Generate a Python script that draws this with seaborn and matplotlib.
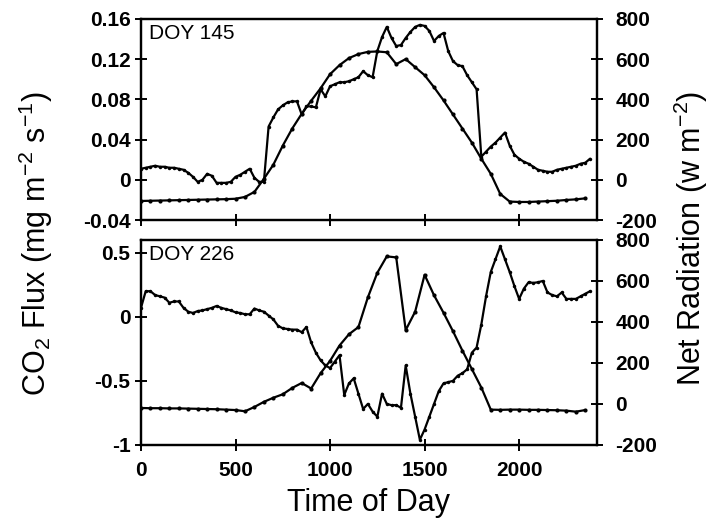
import numpy as np
import matplotlib
matplotlib.use("Agg")
import matplotlib.pyplot as plt
import seaborn as sns

# time grids (decimal hours x 100)
TIME_FLUX = np.arange(0, 2400, 25)
TIME_RN = np.arange(0, 2400, 50)

# DOY 145
flux_145 = [0.011, 0.012, 0.013, 0.014, 0.013, 0.013, 0.012, 0.012, 0.011, 0.010,
            0.007, 0.003, -0.002, 0.000, 0.006, 0.004, -0.003, -0.003, -0.003, -0.002,
            0.003, 0.005, 0.008, 0.011, 0.002, -0.002, -0.002, 0.053, 0.062, 0.070,
            0.074, 0.077, 0.078, 0.078, 0.065, 0.073, 0.073, 0.072, 0.090, 0.083,
            0.093, 0.095, 0.097, 0.097, 0.098, 0.100, 0.102, 0.108, 0.104, 0.102,
            0.128, 0.142, 0.152, 0.141, 0.133, 0.134, 0.141, 0.147, 0.152, 0.154,
            0.153, 0.148, 0.138, 0.143, 0.146, 0.128, 0.118, 0.114, 0.113, 0.104,
            0.097, 0.090, 0.023, 0.028, 0.033, 0.037, 0.042, 0.047, 0.034, 0.025,
            0.021, 0.018, 0.016, 0.013, 0.010, 0.009, 0.008, 0.008, 0.010, 0.011,
            0.012, 0.013, 0.014, 0.016, 0.017, 0.021]
rn_145 = [-105, -104, -103, -102, -101, -100, -99, -98, -97, -96,
          -94, -85, -60, 5, 75, 170, 255, 328, 393, 455,
          525, 570, 605, 625, 636, 638, 634, 575, 600, 560,
          520, 460, 395, 325, 255, 185, 105, 30, -70, -108,
          -110, -110, -108, -106, -104, -100, -97, -92]

# DOY 226
flux_226 = [0.07, 0.20, 0.20, 0.17, 0.16, 0.15, 0.11, 0.12, 0.12, 0.07,
            0.04, 0.03, 0.045, 0.05, 0.06, 0.07, 0.085, 0.07, 0.06, 0.05,
            0.035, 0.03, 0.02, 0.02, 0.065, 0.05, 0.04, 0.01, -0.02, -0.07,
            -0.09, -0.095, -0.10, -0.10, -0.12, -0.08, -0.20, -0.28, -0.34, -0.38,
            -0.40, -0.35, -0.30, -0.61, -0.52, -0.48, -0.60, -0.72, -0.68, -0.74,
            -0.78, -0.60, -0.68, -0.69, -0.69, -0.71, -0.38, -0.60, -0.78, -0.96,
            -0.88, -0.78, -0.68, -0.58, -0.52, -0.51, -0.50, -0.46, -0.44, -0.41,
            -0.28, -0.24, -0.06, 0.16, 0.35, 0.45, 0.55, 0.45, 0.35, 0.24,
            0.14, 0.22, 0.27, 0.265, 0.27, 0.28, 0.19, 0.17, 0.16, 0.19,
            0.14, 0.14, 0.14, 0.16, 0.18, 0.20]
rn_226 = [-20, -21, -21, -22, -22, -23, -24, -25, -26, -28,
          -30, -36, -15, 10, 30, 47, 78, 102, 75, 150,
          210, 285, 340, 375, 520, 640, 720, 715, 360, 450,
          630, 530, 445, 355, 260, 170, 80, -28, -29, -28,
          -28, -29, -29, -30, -31, -33, -38, -30]

panels = [
    ("DOY 145", flux_145, rn_145, (-0.04, 0.16), [0.16, 0.12, 0.08, 0.04, 0, -0.04],
     ["0.16", "0.12", "0.08", "0.04", "0", "-0.04"]),
    ("DOY 226", flux_226, rn_226, (-1, 0.6), [0.5, 0, -0.5, -1],
     ["0.5", "0", "-0.5", "-1"]),
]
rn_ticks = [800, 600, 400, 200, 0, -200]
x_ticks = [0, 500, 1000, 1500, 2000]

sns.set_style("ticks")
plt.rcParams["font.family"] = ["Liberation Sans", "DejaVu Sans"]
plt.rcParams["mathtext.fontset"] = "custom"
plt.rcParams["mathtext.rm"] = "Liberation Sans"
plt.rcParams["axes.unicode_minus"] = False
for key in ["text.color", "axes.labelcolor", "xtick.color", "ytick.color", "axes.edgecolor"]:
    plt.rcParams[key] = "black"

fig = plt.figure(figsize=(7.12, 5.24), dpi=100)
boxes = [[0.198, 0.580, 0.640, 0.384], [0.198, 0.151, 0.640, 0.391]]

for i, (label, flux, rn, ylim, yticks, ylabels) in enumerate(panels):
    ax = fig.add_axes(boxes[i])
    ax2 = ax.twinx()
    sns.lineplot(x=TIME_FLUX, y=flux, ax=ax, color="black", lw=1.6,
                 marker="o", markersize=2.5, markeredgewidth=0)
    sns.lineplot(x=TIME_RN, y=rn, ax=ax2, color="black", lw=1.6,
                 marker="o", markersize=3, markeredgewidth=0)
    ax.set_xlim(0, 2410)
    ax.set_ylim(*ylim)
    ax2.set_ylim(-200, 800)
    ax.set_yticks(yticks)
    ax.set_yticklabels(ylabels)
    ax2.set_yticks(rn_ticks)
    ax2.set_yticklabels([str(v) for v in rn_ticks])
    ax.set_xticks(x_ticks)
    for a in (ax, ax2):
        for s in a.spines.values():
            s.set_linewidth(1.6)
            s.set_visible(True)
        a.tick_params(direction="inout", length=9, width=1.4, labelsize=15, pad=3)
        for t in a.get_yticklabels():
            t.set_fontweight("bold")
    ax2.tick_params(axis="y", pad=9)
    if i == 0:
        ax.set_xticklabels([])
    else:
        ax.set_xticklabels([str(v) for v in x_ticks], fontweight="bold")
        ax.tick_params(axis="x", pad=7)
        ax.set_xlabel("Time of Day", fontsize=22, labelpad=6)
    ax.set_ylabel("")
    ax2.set_ylabel("")
    ax.text(0.018, 0.975, label, transform=ax.transAxes, ha="left", va="top",
            fontsize=15)

fig.text(0.05, 0.535, "CO$_2$ Flux (mg m$^{-2}$ s$^{-1}$)", rotation=90,
         ha="center", va="center", fontsize=22)
fig.text(0.97, 0.545, "Net Radiation (w m$^{-2}$)", rotation=90,
         ha="center", va="center", fontsize=22)

fig.savefig("out.png", dpi=100)
